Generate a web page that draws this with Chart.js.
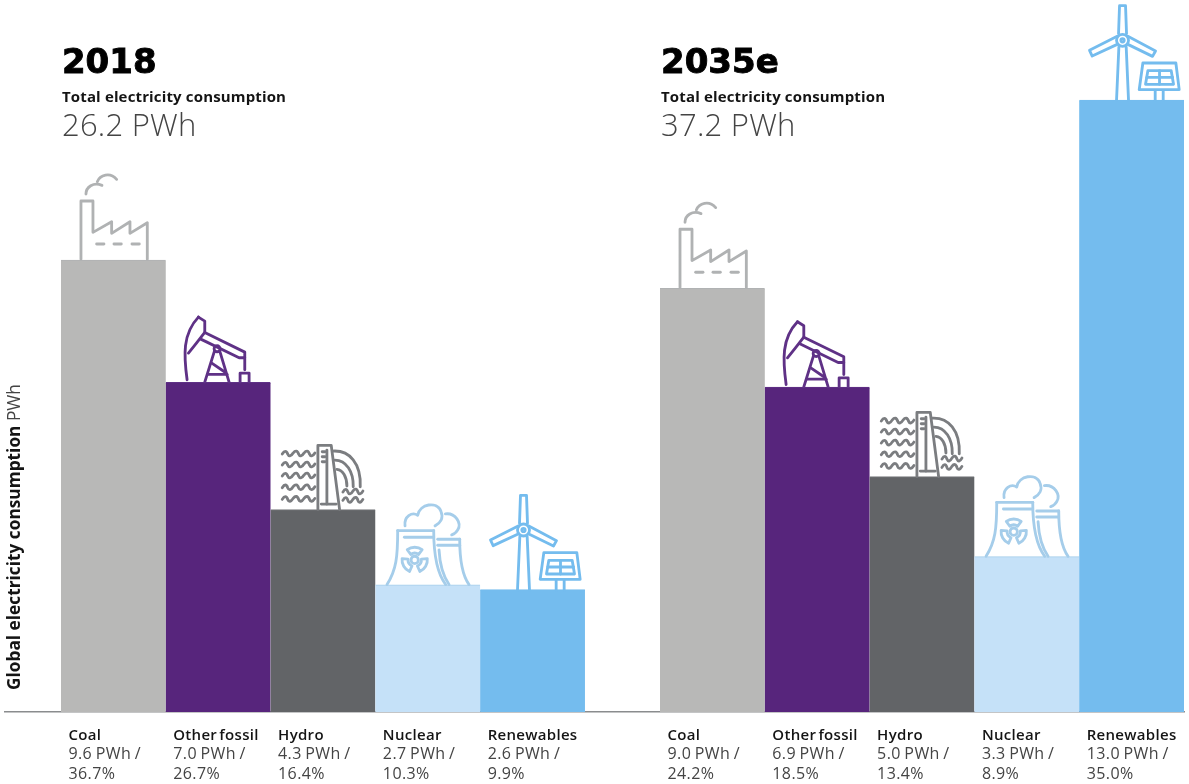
<!DOCTYPE html>
<html>
<head>
<meta charset="utf-8">
<title>Global electricity consumption</title>
<script src="https://cdn.jsdelivr.net/npm/chart.js@4"></script>
<style>
  html, body { margin: 0; padding: 0; background: #fff; }
  #wrap { width: 1189px; height: 784px; }
</style>
</head>
<body>
<div id="wrap"><canvas id="energyChart" width="1189" height="784"></canvas></div>
<script>
// values
const categories = ['Coal', 'Other fossil', 'Hydro', 'Nuclear', 'Renewables'];
const years = ['2018', '2035e'];
const totals = [26.2, 37.2];
const pwh2018 = [9.6, 7.0, 4.3, 2.7, 2.6];
const pwh2035 = [9.0, 6.9, 5.0, 3.3, 13.0];
const share2018 = [36.7, 26.7, 16.4, 10.3, 9.9];
const share2035 = [24.2, 18.5, 13.4, 8.9, 35.0];

const barColors = ['#b8b8b7', '#57257c', '#626467', '#c5e1f8', '#74bcee'];
const iconColors = ['#b0b2b3', '#5f3186', '#7b7d80', '#a5cdea', '#74bcee'];
const ink = '#141414';
const inkSoft = '#444444';

// second group sits a bit under one bar width after the first
const groupGap = 0.716;
const toPoints = (vals, offset) => vals.map((v, i) => ({ x: i + offset, y: v }));

// icons are traced in a 3x grid, then anchored to the bar's top left corner
function line(ctx, pts, close) {
  ctx.beginPath();
  pts.forEach((p, i) => i ? ctx.lineTo(p[0], p[1]) : ctx.moveTo(p[0], p[1]));
  if (close) ctx.closePath();
  ctx.stroke();
}

function curve(ctx, x0, y0, segs) {
  ctx.beginPath();
  ctx.moveTo(x0, y0);
  segs.forEach(s => ctx.bezierCurveTo(s[0], s[1], s[2], s[3], s[4], s[5]));
  ctx.stroke();
}

function wave(ctx, x0, x1, y, humps) {
  const step = (x1 - x0) / humps;
  ctx.beginPath();
  ctx.moveTo(x0, y);
  for (let i = 0; i < humps; i++) {
    const a = x0 + i * step;
    ctx.bezierCurveTo(a + step * 0.2, y - 11, a + step * 0.4, y - 11, a + step * 0.5, y);
    ctx.bezierCurveTo(a + step * 0.6, y + 8, a + step * 0.8, y + 8, a + step, y - 3);
  }
  ctx.stroke();
}

function factoryIcon(ctx) {
  line(ctx, [[243, 778], [243, 603], [279, 603], [279, 697], [335, 665], [335, 700], [390, 665], [390, 700], [442, 668], [442, 778]]);
  [[290, 312], [342, 364], [396, 418]].forEach(d => line(ctx, [[d[0], 732], [d[1], 732]]));
  curve(ctx, 258, 582, [[258, 562, 280, 545, 306, 556]]);
  curve(ctx, 292, 545, [[300, 525, 330, 515, 350, 538]]);
}

function pumpIcon(ctx) {
  // horse head
  curve(ctx, 52, 238, [[42, 165, 38, 100, 86, 50]]);
  line(ctx, [[86, 50], [105, 62], [105, 96], [80, 128], [56, 158]]);
  // beam and hanging rod
  line(ctx, [[105, 96], [225, 155], [225, 208]]);
  line(ctx, [[93, 116], [208, 172], [225, 172]]);
  // derrick
  ctx.beginPath();
  ctx.arc(142, 145, 9, 0, Math.PI * 2);
  ctx.stroke();
  line(ctx, [[105, 245], [134, 152]]);
  line(ctx, [[178, 245], [150, 152]]);
  line(ctx, [[126, 188], [164, 214]]);
  line(ctx, [[114, 222], [172, 222]]);
  // counterweight
  line(ctx, [[211, 245], [211, 218], [238, 218], [238, 245]]);
}

function damIcon(ctx) {
  [462, 495, 528, 563, 598].forEach(y => wave(ctx, 338, 436, y, 3));
  [576, 601].forEach(y => wave(ctx, 520, 580, y, 2));
  line(ctx, [[445, 628], [445, 436], [485, 436], [510, 628]]);
  line(ctx, [[455, 612], [500, 612]]);
  line(ctx, [[472, 612], [472, 450]]);
  [455, 470, 485].forEach(y => line(ctx, [[458, y], [466, y]]));
  curve(ctx, 490, 453, [[540, 450, 575, 490, 572, 560]]);
  curve(ctx, 496, 480, [[530, 480, 552, 515, 551, 560]]);
  curve(ctx, 502, 508, [[520, 510, 532, 530, 532, 558]]);
}

function nuclearIcon(ctx) {
  // big tower
  line(ctx, [[52, 152], [160, 152]]);
  curve(ctx, 52, 152, [[52, 230, 48, 270, 20, 314]]);
  curve(ctx, 160, 152, [[160, 230, 170, 280, 196, 314]]);
  line(ctx, [[72, 172], [158, 172]]);
  // small tower
  line(ctx, [[172, 178], [238, 178]]);
  line(ctx, [[172, 196], [238, 196]]);
  curve(ctx, 238, 178, [[238, 240, 245, 285, 266, 314]]);
  curve(ctx, 176, 210, [[178, 250, 186, 285, 206, 314]]);
  // steam
  curve(ctx, 74, 138, [[70, 110, 95, 95, 112, 106], [118, 72, 170, 62, 182, 95], [190, 115, 180, 130, 164, 138]]);
  curve(ctx, 195, 102, [[225, 98, 245, 130, 232, 150], [228, 158, 222, 162, 214, 165]]);
  // trefoil
  ctx.beginPath();
  ctx.arc(103, 240, 11, 0, Math.PI * 2);
  ctx.stroke();
  [-90, 30, 150].forEach(a => {
    const mid = a * Math.PI / 180, half = Math.PI / 5;
    ctx.beginPath();
    ctx.arc(103, 240, 38, mid - half, mid + half);
    ctx.arc(103, 240, 20, mid + half, mid - half, true);
    ctx.closePath();
    ctx.stroke();
  });
}

function windIcon(ctx) {
  // tower
  line(ctx, [[419, 170], [412, 330]]);
  line(ctx, [[441, 170], [448, 330]]);
  // hub
  ctx.beginPath();
  ctx.arc(430, 150, 18, 0, Math.PI * 2);
  ctx.stroke();
  ctx.beginPath();
  ctx.arc(430, 150, 5, 0, Math.PI * 2);
  ctx.stroke();
  // blades
  line(ctx, [[418, 130], [421, 46], [439, 46], [442, 130]]);
  line(ctx, [[414, 138], [331, 180], [339, 197], [414, 162]]);
  line(ctx, [[446, 138], [529, 182], [520, 198], [446, 162]]);
  // solar panel
  line(ctx, [[491, 218], [590, 218], [600, 298], [480, 298]], true);
  line(ctx, [[506, 241], [576, 241], [583, 282], [499, 282]], true);
  line(ctx, [[503, 261], [580, 261]]);
  line(ctx, [[541, 241], [541, 282]]);
  line(ctx, [[528, 300], [528, 330]]);
  line(ctx, [[552, 300], [552, 330]]);
}

// icon, offset of its 3x grid from the bar corner
const icons = [
  { draw: factoryIcon, dx: -61, dy: -260 },
  { draw: pumpIcon, dx: 4, dy: -82 },
  { draw: damIcon, dx: -101, dy: -209.5 },
  { draw: nuclearIcon, dx: 5, dy: -105 },
  { draw: windIcon, dx: -100, dy: -109.6 }
];

const decorations = {
  id: 'decorations',
  afterDatasetsDraw(chart) {
    const ctx = chart.ctx;
    const sets = [[pwh2018, share2018], [pwh2035, share2035]];

    chart.data.datasets.forEach((ds, d) => {
      const bars = chart.getDatasetMeta(d).data;

      bars.forEach((bar, i) => {
        const left = bar.x - bar.width / 2;

        ctx.save();
        ctx.translate(left + icons[i].dx, bar.y + icons[i].dy);
        ctx.scale(1 / 3, 1 / 3);
        ctx.strokeStyle = iconColors[i];
        ctx.lineWidth = 8.5;
        ctx.lineJoin = 'round';
        ctx.lineCap = 'round';
        icons[i].draw(ctx);
        ctx.restore();

        // label under the bar
        const base = chart.scales.y.getPixelForValue(0);
        ctx.save();
        ctx.textBaseline = 'alphabetic';
        ctx.textAlign = 'left';
        ctx.fillStyle = ink;
        ctx.font = '600 15px "Open Sans"';
        ctx.letterSpacing = '0.3px';
        ctx.wordSpacing = '-2px';
        ctx.fillText(categories[i], left + 7.5, base + 28);
        ctx.fillStyle = inkSoft;
        ctx.font = '400 16px "Open Sans"';
        ctx.letterSpacing = '0.4px';
        ctx.wordSpacing = '-1px';
        ctx.fillText(sets[d][0][i].toFixed(1) + ' PWh /', left + 7.5, base + 47);
        ctx.fillText(sets[d][1][i].toFixed(1) + '%', left + 7.5, base + 67);
        ctx.restore();
      });

      // heading over each group
      const x = bars[0].x - bars[0].width / 2 + 1;
      ctx.save();
      ctx.textAlign = 'left';
      ctx.textBaseline = 'alphabetic';
      ctx.fillStyle = '#000';
      ctx.strokeStyle = '#000';
      ctx.lineWidth = 0.9;
      ctx.font = '700 34px "DejaVu Sans"';
      ctx.fillText(years[d], x, 73);
      ctx.strokeText(years[d], x, 73);
      ctx.fillStyle = ink;
      ctx.font = '700 15px "Open Sans"';
      ctx.letterSpacing = '0.15px';
      ctx.fillText('Total electricity consumption', x, 102);
      ctx.fillStyle = inkSoft;
      ctx.font = '300 31px "Open Sans"';
      ctx.letterSpacing = '0.25px';
      ctx.fillText(totals[d].toFixed(1) + ' PWh', x, 136);
      ctx.restore();
    });

    // vertical axis caption, two weights
    ctx.save();
    ctx.translate(20, 690);
    ctx.rotate(-Math.PI / 2);
    ctx.textAlign = 'left';
    ctx.textBaseline = 'alphabetic';
    ctx.fillStyle = ink;
    ctx.font = '700 17.3px "Open Sans"';
    const caption = 'Global electricity consumption ';
    ctx.fillText(caption, 0, 0);
    const w = ctx.measureText(caption).width;
    ctx.fillStyle = inkSoft;
    ctx.font = '400 17.3px "Open Sans"';
    ctx.fillText('PWh', w, 0);
    ctx.restore();
  }
};

const energyChart = new Chart(document.getElementById('energyChart'), {
  type: 'bar',
  data: {
    datasets: [
      { label: years[0], data: toPoints(pwh2018, 0), backgroundColor: barColors, borderColor: iconColors, borderWidth: { top: 1 }, borderSkipped: false },
      { label: years[1], data: toPoints(pwh2035, categories.length + groupGap), backgroundColor: barColors, borderColor: iconColors, borderWidth: { top: 1 }, borderSkipped: false }
    ]
  },
  options: {
    responsive: false,
    animation: false,
    grouped: false,
    barPercentage: 1,
    categoryPercentage: 1,
    layout: { padding: { left: 5, right: 5, top: 5.8, bottom: 72 } },
    plugins: { legend: { display: false }, tooltip: { enabled: false } },
    scales: {
      x: {
        type: 'linear',
        offset: false,
        min: -1.034,
        max: 10.216,
        grid: { display: false, drawTicks: false },
        ticks: { display: false },
        border: { color: '#8a8c8e', width: 1.5 }
      },
      y: {
        display: false,
        min: 0,
        max: 15
      }
    }
  },
  plugins: [decorations]
});
</script>
</body>
</html>
